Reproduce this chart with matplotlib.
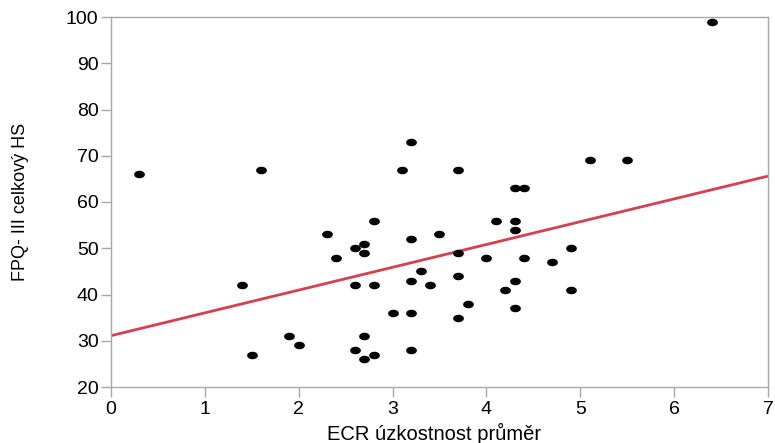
import numpy as np
import matplotlib
matplotlib.use("Agg")
import matplotlib.pyplot as plt
from matplotlib.path import Path

plt.rcParams['font.family'] = ['Liberation Sans', 'DejaVu Sans']

# Data
ecr = [0.3, 1.6, 1.4, 1.5, 1.9, 2.0, 2.3, 2.4, 2.6, 2.7, 2.7, 2.6, 2.8, 2.8,
       2.6, 2.7, 2.7, 2.8, 3.0, 3.1, 3.2, 3.2, 3.2, 3.2, 3.2, 3.3, 3.4, 3.5,
       3.7, 3.7, 3.7, 3.7, 3.8, 4.0, 4.1, 4.2, 4.3, 4.3, 4.3, 4.3, 4.3, 4.4,
       4.4, 4.7, 4.9, 4.9, 5.1, 5.5, 6.4]
fpq = [66, 67, 42, 27, 31, 29, 53, 48, 50, 51, 49, 42, 42, 56,
       28, 31, 26, 27, 36, 67, 73, 52, 43, 36, 28, 45, 42, 53,
       67, 49, 44, 35, 38, 48, 56, 41, 63, 56, 54, 43, 37, 63,
       48, 47, 50, 41, 69, 69, 99]

fit_x = [0, 7]
fit_y = [31.1, 65.6]

x_ticks = [0, 1, 2, 3, 4, 5, 6, 7]
y_ticks = [20, 30, 40, 50, 60, 70, 80, 90, 100]
x_label = "ECR úzkostnost průměr"
y_label = "FPQ- III celkový HS"

fig = plt.figure(figsize=(7.75, 4.43), dpi=100)
ax = fig.add_axes([111/775, 1-387/443, (768-111)/775, (387-17)/443])

t = np.linspace(0, 2*np.pi, 40)
ell = Path(np.column_stack([np.cos(t), 0.7*np.sin(t)]), closed=True)

ax.scatter(ecr, fpq, marker=ell, s=60, color='black', linewidths=0, zorder=3)
ax.plot(fit_x, fit_y, color='#d6404e', lw=2.0, zorder=2, solid_capstyle='butt')

ax.set_xlim(0, 7)
ax.set_ylim(20, 100)
ax.set_xticks(x_ticks)
ax.set_yticks(y_ticks)
ax.tick_params(direction='out', length=7, width=1, color='#a8a8a8',
               labelsize=14, labelcolor='black')
ax.tick_params(axis='y', pad=2)
ax.tick_params(axis='x', pad=3)
for s in ax.spines.values():
    s.set_color('#a8a8a8')
    s.set_linewidth(1)

ax.set_xlabel(x_label, fontsize=14.5)
ax.set_ylabel(y_label, fontsize=13)
ax.xaxis.set_label_coords(0.4916, -0.097)
ax.yaxis.set_label_coords(-0.125, 0.5)

fig.savefig("out.png", dpi=100)
